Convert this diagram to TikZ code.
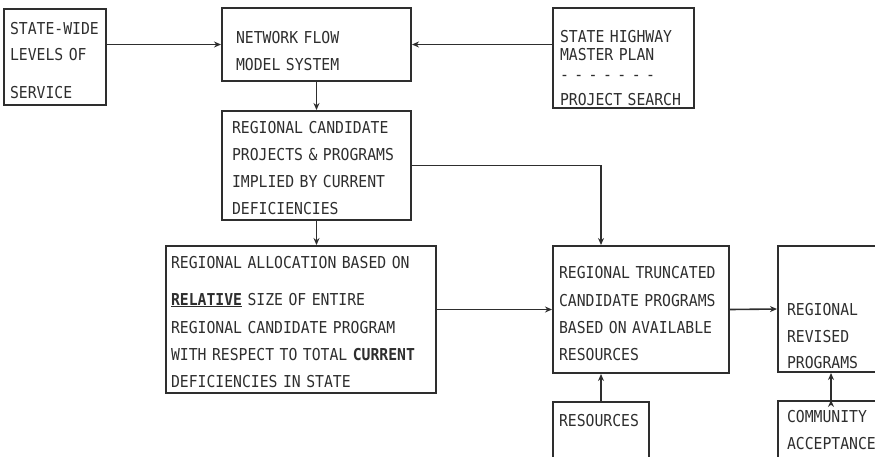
\documentclass[tikz,border=0pt]{standalone}
\usepackage{fontspec}
\usepackage{tikz}
\usetikzlibrary{arrows.meta}
\newfontfamily\typewr[FakeStretch=0.9]{DejaVu Sans Mono}
\definecolor{ink}{HTML}{2E2E2E}

\begin{document}
\begin{tikzpicture}[x=1pt,y=-1pt,
	block/.style={draw=ink, line width=2pt, anchor=north west, inner ysep=0pt,
		align=left, text=ink, font=\typewr\fontsize{16.4}{27}\selectfont},
	arr/.style={draw=ink, line width=1.6pt, -{Stealth[length=7pt,width=6pt]}}]
	\useasboundingbox (0,0) rectangle (875,456);
	\clip (0,0) rectangle (875,456);

	\node[block, inner xsep=6pt, text width=90pt, text height=25pt, text depth=71pt] (levels) at (3,8) {STATE-WIDE\\[-1pt]LEVELS OF\\[11pt]SERVICE};
	\node[block, inner xsep=14pt, text width=161pt, text height=35pt, text depth=38pt] (netflow) at (221,7) {NETWORK FLOW\\MODEL SYSTEM};
	\node[block, inner xsep=7pt, text width=127pt, text height=34pt, text depth=66pt] (master) at (552,7) {STATE HIGHWAY\\[-9pt]MASTER PLAN\\[-7pt]- - - - - - -\\[-2pt]PROJECT SEARCH};
	\node[block, inner xsep=10pt, text width=169pt, text height=22pt, text depth=87pt] (candidates) at (221,110) {REGIONAL CANDIDATE\\PROJECTS \& PROGRAMS\\IMPLIED BY CURRENT\\DEFICIENCIES};
	\node[block, inner xsep=5pt, text width=260pt, text height=22pt, text depth=125pt] (allocation) at (165,245) {REGIONAL ALLOCATION BASED ON\\[10pt]\underline{\textbf{RELATIVE}} SIZE OF ENTIRE\\[1pt]REGIONAL CANDIDATE PROGRAM\\WITH RESPECT TO TOTAL \textbf{CURRENT}\\DEFICIENCIES IN STATE};
	\node[block, inner xsep=6pt, text width=164pt, text height=32pt, text depth=95pt] (truncated) at (552,245) {REGIONAL TRUNCATED\\[1pt]CANDIDATE PROGRAMS\\BASED ON AVAILABLE\\RESOURCES};
	\node[block, inner xsep=9pt, text width=88pt, text height=69pt, text depth=57pt] (revised) at (777,245) {REGIONAL\\REVISED\\[-1pt]PROGRAMS};
	\node[block, inner xsep=6pt, text width=84pt, text height=24pt, text depth=46pt] (resources) at (552,401) {RESOURCES};
	\node[block, inner xsep=9pt, text width=88pt, text height=21pt, text depth=49pt] (community) at (777,400) {COMMUNITY\\ACCEPTANCE};

	\path [arr]
	(levels.east |- netflow.west) edge (netflow.west)
	(master.west |- netflow.east) edge (netflow.east)
	(netflow.south) edge (candidates.north)
	(candidates.south) edge (candidates.south |- allocation.north)
	(allocation.east |- truncated.west) edge (truncated.west)
	(truncated.east) edge (revised.west)
	(resources.north) edge (resources.north |- truncated.south)
	(community.north) edge (community.north |- revised.south);

	\draw[arr] (candidates.east) -| (resources.north |- truncated.north);
\end{tikzpicture}
\end{document}
